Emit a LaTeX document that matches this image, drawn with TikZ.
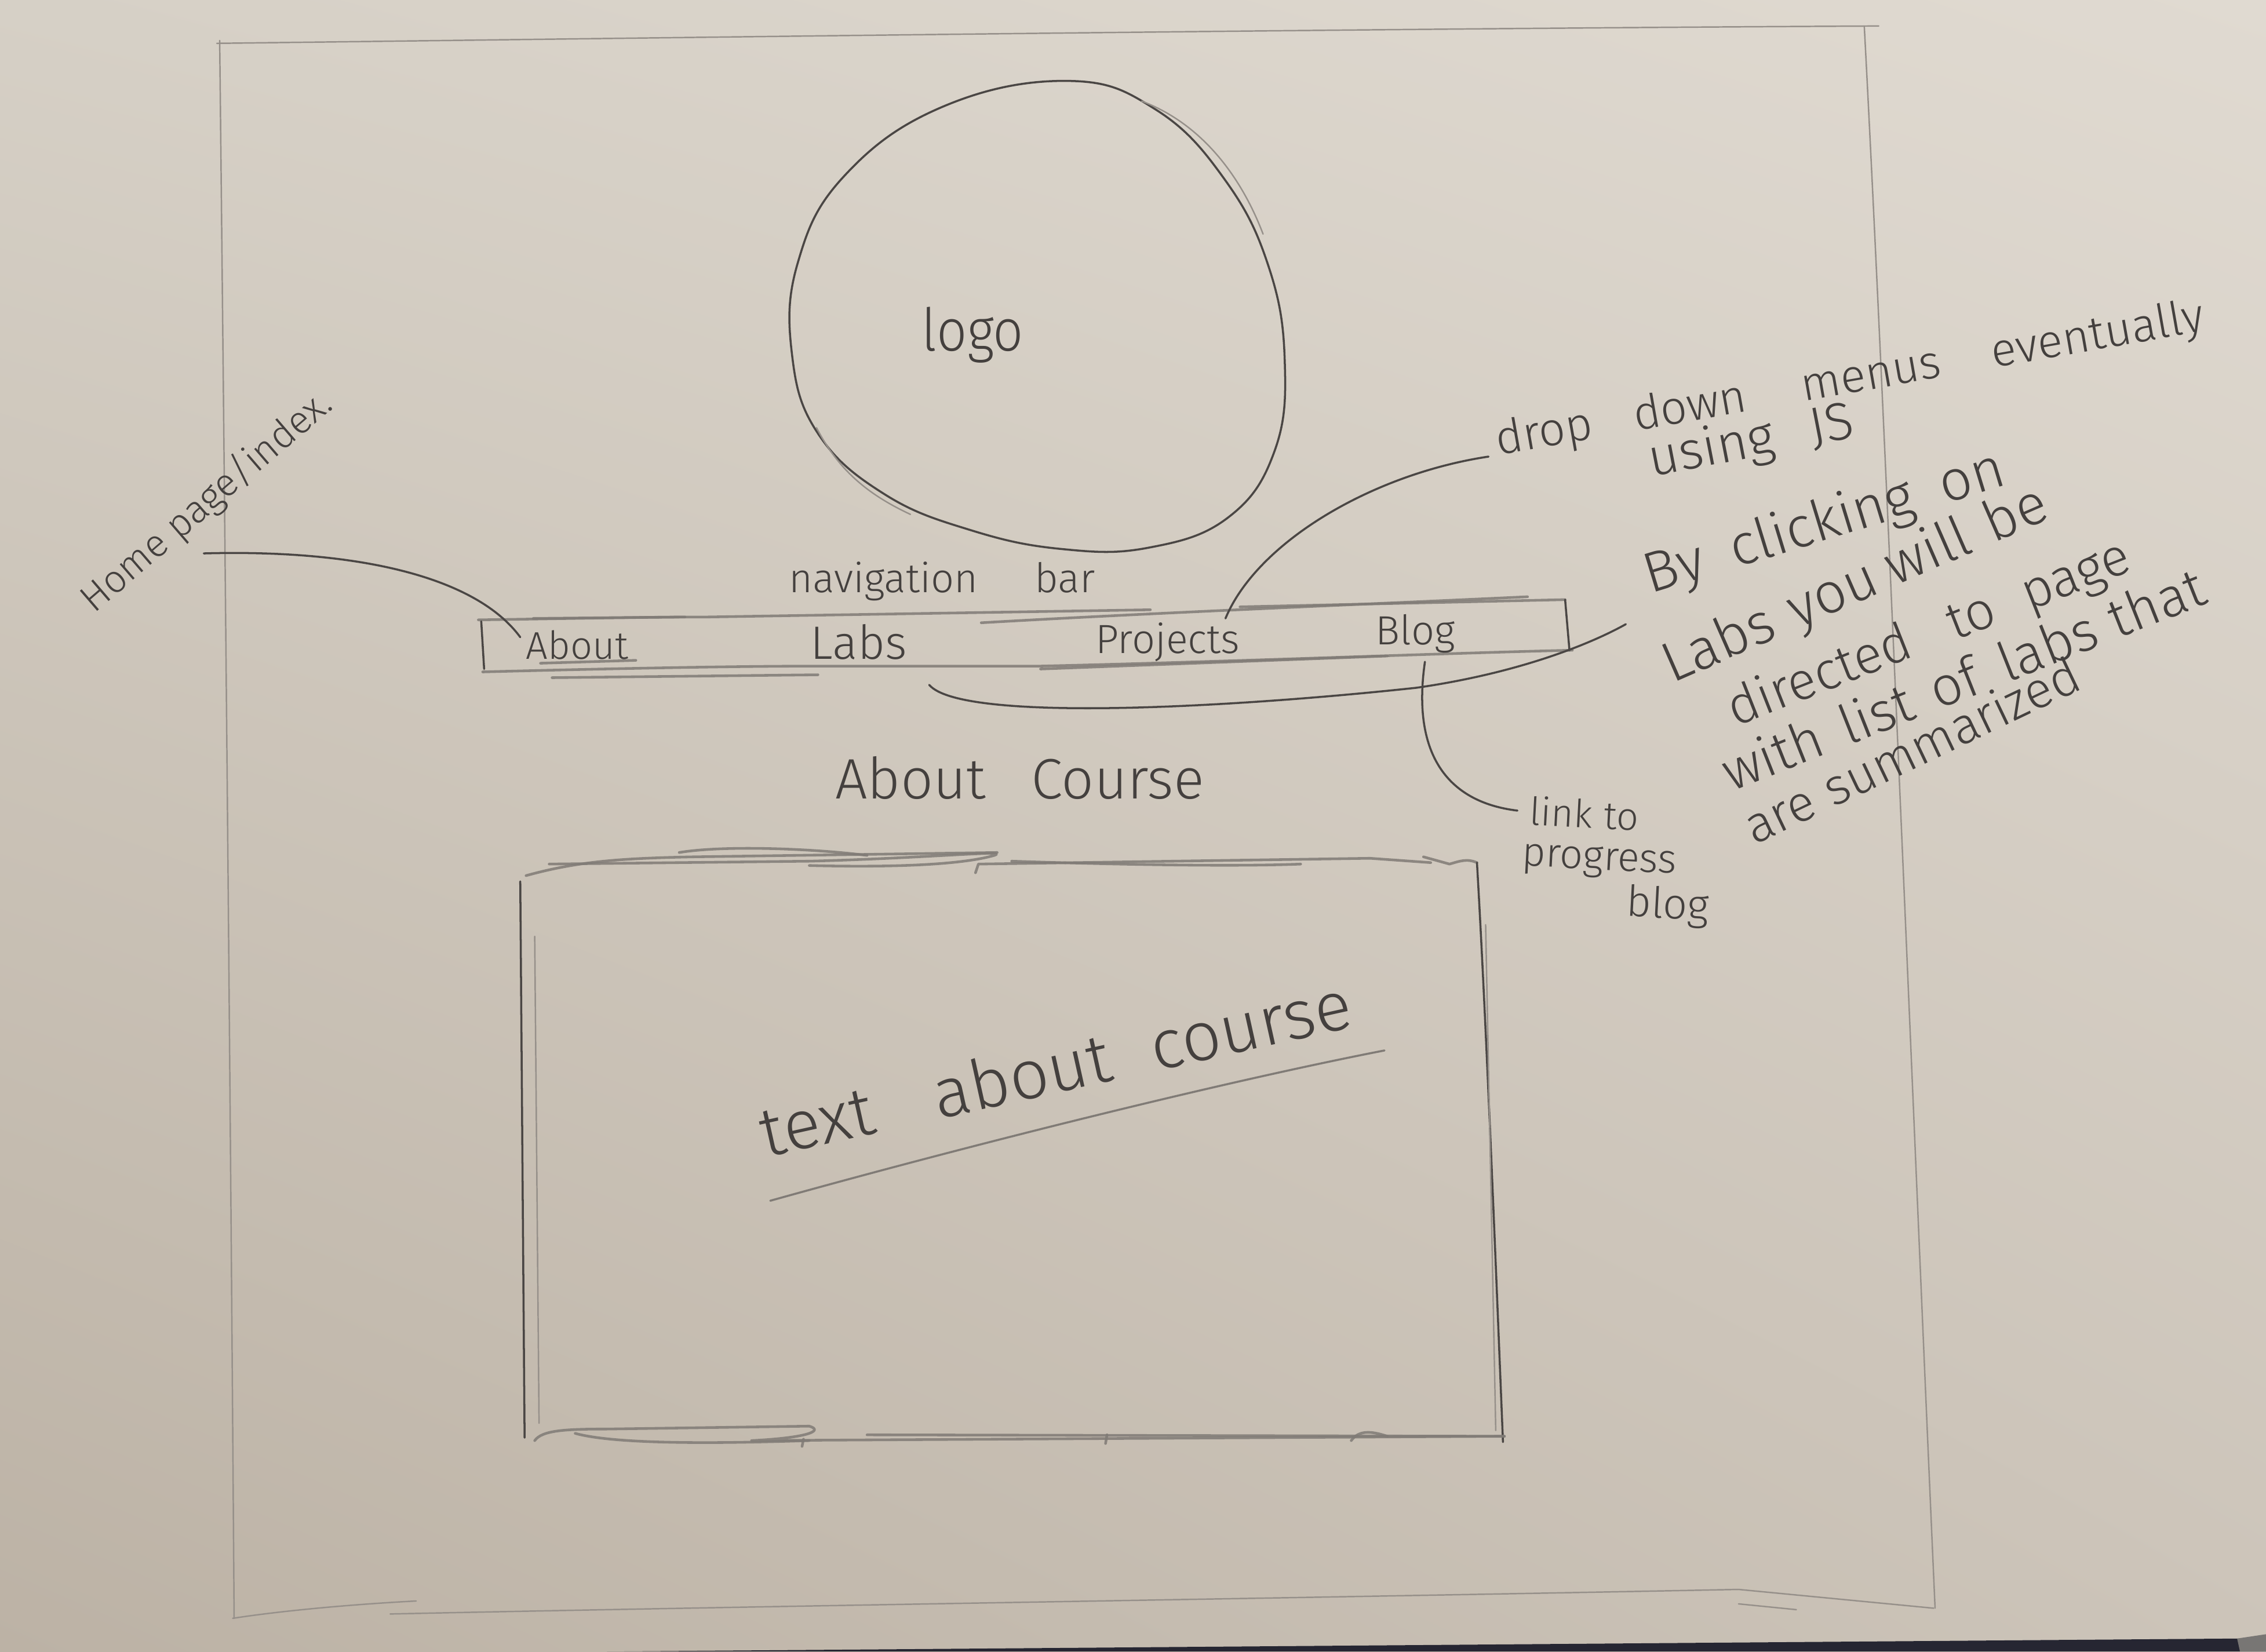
\documentclass[tikz,border=0pt]{standalone}
\usepackage{fontspec}
\newfontfamily\handfont{Fira Sans Light}
\usetikzlibrary{calc,shadings}
% paper and pencil tones
\definecolor{paperUL}{RGB}{214,208,198}
\definecolor{paperUR}{RGB}{224,218,209}
\definecolor{paperLL}{RGB}{188,178,165}
\definecolor{paperLR}{RGB}{204,196,185}
\definecolor{tableDark}{RGB}{38,38,50}
\definecolor{tableGrey}{RGB}{120,118,116}
\definecolor{lead}{RGB}{74,70,68}
\definecolor{ink}{RGB}{68,64,62}
\definecolor{leadMid}{RGB}{128,123,118}
\definecolor{leadLight}{RGB}{150,144,138}
\newcommand\wgap[1]{\hspace{#1em}}
\begin{document}
\begin{tikzpicture}[x=0.024936cm, y=-0.024936cm,
  pencil/.style={draw=lead, line width=1.0pt, line cap=round, line join=round},
  faint/.style={draw=leadLight, line width=0.7pt, line cap=round, line join=round},
  smudge/.style={draw=leadMid, line width=1.3pt, line cap=round, line join=round, opacity=0.85},
  lbl/.style={font=\handfont\fontsize{#1}{#1}\selectfont, text=ink, inner sep=0pt, outer sep=0pt, anchor=base west},
]
\useasboundingbox (0,0) rectangle (1568,1143);
% sheet of paper and the table edge below it
\shade[upper left=paperUL, upper right=paperUR, lower left=paperLL, lower right=paperLR] (0,0) rectangle (1568,1143);
\fill[tableDark] (420,1143) -- (1548,1134) -- (1568,1134) -- (1568,1143) -- cycle;
\fill[tableGrey] (1548,1134) -- (1568,1131) -- (1568,1143) -- (1550,1143) -- cycle;

% page frame
\draw[faint] (150,30) .. controls (400,27) and (900,20) .. (1300,18);
\draw[faint] (152,28) .. controls (155,300) and (159,700) .. (162,1120);
\draw[faint] (1290,18) .. controls (1305,300) and (1325,800) .. (1339,1113);
\draw[faint] (161,1120) .. controls (200,1114) and (250,1110) .. (288,1108);
\draw[faint] (270,1117) .. controls (500,1112) and (900,1106) .. (1203,1100) -- (1338,1113);
\draw[faint] (1203,1110) -- (1243,1114);

% logo
\draw[pencil] plot[smooth cycle, tension=0.7] coordinates {(739,56) (800,76) (848,125) (878,185) (889,250) (882,312) (850,358) (795,379) (735,380) (672,367) (612,342) (566,300) (548,245) (552,182) (584,122) (652,74)};
\draw[faint] (790,70) .. controls (830,85) and (858,120) .. (874,162);
\draw[faint] (565,296) .. controls (580,325) and (600,342) .. (630,356);
\node[lbl=29, xscale=0.9] (logo) at (638,243) {logo};

% navigation bar
\node[lbl=20] (navcap) at (546,410) {navigation\wgap{1.4}bar};
\draw[smudge] (331,429) .. controls (400,428) and (450,427) .. (490,427) -- (796,422);
\draw[smudge] (369,428) -- (474,427);
\draw[smudge] (679,431) .. controls (800,424) and (950,418) .. (1057,413);
\draw[smudge] (858,420) -- (1083,415);
\draw[smudge] (334,465) .. controls (450,462) and (520,461) .. (566,461) -- (720,461) .. controls (850,458) and (1000,452) .. (1088,450);
\draw[smudge] (382,469) -- (566,467);
\draw[smudge] (374,459) -- (440,457);
\draw[smudge] (720,463) -- (960,454);
\draw[pencil] (333,430) -- (335,463);
\draw[pencil] (1083,415) -- (1086,450);
\node[lbl=19] (about) at (364,456) {About};
\node[lbl=23] (labs) at (561,456) {Labs};
\node[lbl=20] (projects) at (758,452) {Projects};
\node[lbl=20] (blog) at (952,446) {Blog};

% annotations
\node[lbl=19, rotate=40.7] (home) at (65,425) {Home page/index.};
\node[lbl=23, rotate=10] (drop) at (1037,315) {drop\wgap{0.9}down\wgap{1.2}menus\wgap{1.1}eventually};
\node[lbl=26, rotate=11] (usejs) at (1143,330) {using\wgap{0.7}JS};
\node[lbl=28, rotate=17] (click1) at (1142,411) {By\wgap{0.5}clicking\wgap{0.5}on};
\node[lbl=28, rotate=23.6] (click2) at (1157,473) {Labs\wgap{0.35}you\wgap{0.25}will\wgap{0.35}be};
\node[lbl=26, rotate=21.5] (click3) at (1201,503) {directed\wgap{0.8}to\wgap{0.6}page};
\node[lbl=27, rotate=21.6] (click4) at (1198,548) {with\wgap{0.4}list\wgap{0.4}of\wgap{0.45}labs\wgap{0.3}that};
\node[lbl=25, rotate=25.5] (click5) at (1214,585) {are\wgap{0.3}summarized};
\node[lbl=19, rotate=-3] (link1) at (1058,571) {link\wgap{0.3}to};
\node[lbl=20, rotate=-3] (link2) at (1053,599) {progress};
\node[lbl=21, rotate=-3] (link3) at (1125,634) {blog};

% connector ends
\coordinate (homeTip) at (141,383);
\coordinate (aboutTip) at (360,441);
\coordinate (dropTip) at (1030,316);
\coordinate (projTip) at (848,428);
\coordinate (labsTip) at (643,474);
\coordinate (clickTip) at (1125,432);
\coordinate (blogTip) at (986,458);
\coordinate (linkTip) at (1050,561);

% connectors
\draw[pencil] (homeTip) .. controls (250,380) and (330,400) .. (aboutTip);
\draw[pencil] (dropTip) .. controls (950,328) and (870,375) .. (projTip);
\draw[pencil] (labsTip) .. controls (665,500) and (850,490) .. (980,476) .. controls (1050,466) and (1100,446) .. (clickTip);
\draw[pencil] (blogTip) .. controls (977,520) and (1000,555) .. (linkTip);

% about section
\node[lbl=28] (aboutcourse) at (578,553) {About\wgap{0.8}Course};

% content box
\draw[smudge] (364,606) .. controls (400,596) and (430,594) .. (480,593) -- (690,590);
\draw[smudge] (380,598) -- (560,596) .. controls (640,594) and (700,588) .. (688,592) .. controls (660,600) and (600,600) .. (560,599);
\draw[smudge] (470,590) .. controls (500,585) and (560,587) .. (600,592);
\draw[smudge] (675,604) -- (677,598) -- (948,594) -- (990,597);
\draw[smudge] (700,596) .. controls (760,598) and (850,600) .. (900,598);
\draw[smudge] (985,593) -- (1003,598) .. controls (1010,596) and (1015,594) .. (1022,597);
\draw[pencil] (360,610) -- (363,995);
\draw[faint] (370,648) -- (373,985);
\draw[pencil] (1022,597) .. controls (1028,700) and (1034,850) .. (1040,998);
\draw[faint] (1028,640) -- (1035,990);
\draw[smudge] (370,997) .. controls (375,990) and (390,989) .. (420,989) -- (560,987) .. controls (570,990) and (560,995) .. (520,997) -- (1041,994);
\draw[smudge] (398,992) .. controls (420,998) and (470,1000) .. (560,997);
\draw[smudge] (600,993) -- (1041,994);
\draw[smudge] (555,1001) -- (556,996);
\draw[smudge] (765,999) -- (766,993);
\draw[smudge] (935,997) .. controls (940,990) and (948,990) .. (960,994);

% placeholder text inside the box
\node[lbl=34, rotate=12.5] (bodytext) at (530,801) {text\wgap{0.9}about\wgap{0.6}course};
\coordinate (ulA) at (533,831);
\coordinate (ulB) at (958,727);
\draw[pencil, draw=leadMid] (ulA) .. controls (680,790) and (850,748) .. (ulB);
\end{tikzpicture}
\end{document}
